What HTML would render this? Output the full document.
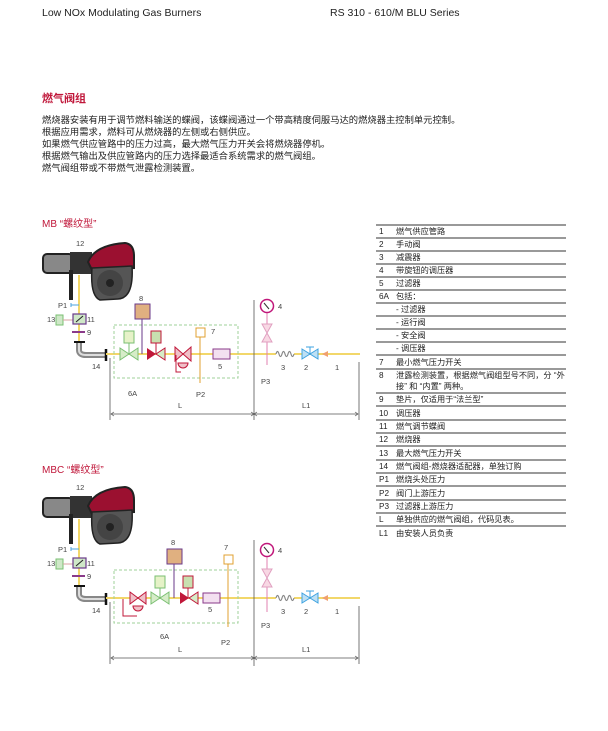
<!DOCTYPE html>
<html><head><meta charset="utf-8"><style>
body{margin:0;width:608px;height:731px;background:#fff;position:relative;overflow:hidden;font-family:"Liberation Sans","Noto Sans CJK SC",sans-serif;color:#222}
.a{position:absolute;white-space:nowrap}
</style></head><body>
<div class="a" style="left:42px;top:7px;font-size:10.5px">Low NOx Modulating Gas Burners</div>
<div class="a" style="left:330px;top:7px;font-size:10.5px">RS 310 - 610/M BLU Series</div>
<div class="a" style="left:42px;top:90px;font-size:11px;font-weight:bold;color:#c0173a">燃气阀组</div>
<div class="a" style="left:42px;top:114px;font-size:9.3px;line-height:12.1px">燃烧器安装有用于调节燃料输送的蝶阀，该蝶阀通过一个带高精度伺服马达的燃烧器主控制单元控制。<br>根据应用需求，燃料可从燃烧器的左侧或右侧供应。<br>如果燃气供应管路中的压力过高，最大燃气压力开关会将燃烧器停机。<br>根据燃气输出及供应管路内的压力选择最适合系统需求的燃气阀组。<br>燃气阀组带或不带燃气泄露检测装置。</div>
<div class="a" style="left:42px;top:215px;font-size:10px;color:#c0173a">MB “螺纹型”</div>
<div class="a" style="left:42px;top:461px;font-size:10px;color:#c0173a">MBC “螺纹型”</div>

<svg class="a" style="left:0;top:0" width="608" height="731" font-family="Liberation Sans, sans-serif" font-size="7.5" fill="#444">
<defs>
<g id="burner">
 <rect x="43" y="254" width="30" height="19" rx="4" fill="#888" stroke="#222" stroke-width="2"/>
 <rect x="70" y="252" width="22" height="22" fill="#333"/>
 <rect x="69" y="270" width="4" height="30" fill="#222"/>
 <path d="M88 262 Q95 245 125 243 Q134 244 134 256 L134 268 L92 270 Z" fill="#9b1030" stroke="#222" stroke-width="2"/>
 <path d="M92 268 L132 266 Q134 298 118 299 L100 300 Q90 296 92 268 Z" fill="#555" stroke="#222" stroke-width="1.5"/>
 <circle cx="110" cy="283" r="13" fill="#444"/>
 <circle cx="110" cy="283" r="4" fill="#222"/>
</g>
<g id="side">
 <line x1="79" y1="275" x2="79" y2="342" stroke="#f2d76a" stroke-width="2"/>
 <path d="M71 305 h8" stroke="#4aa3df" stroke-width="1"/>
 <path d="M71 303 v4" stroke="#4aa3df" stroke-width="1" fill="none"/>
 <rect x="56" y="315" width="7" height="10" fill="#cfe8c8" stroke="#7abf72"/>
 <line x1="63" y1="320" x2="73" y2="320" stroke="#d9a0a0"/>
 <rect x="73" y="314" width="13" height="10" fill="#cfe8c8" stroke="#6a3a8a" stroke-width="1.2"/>
 <line x1="76" y1="322" x2="83" y2="316" stroke="#222"/>
 <line x1="72" y1="332" x2="85" y2="332" stroke="#8a3a8a" stroke-width="2"/>
 <line x1="74" y1="342" x2="85" y2="342" stroke="#111" stroke-width="2"/>
 <path d="M79 343 V350 Q79 355 86 355 H105" stroke="#888" stroke-width="6" fill="none"/>
 <path d="M79 343 V350 Q79 355 86 355 H105" stroke="#ddd" stroke-width="2" fill="none"/>
 <line x1="106" y1="349" x2="106" y2="361" stroke="#111" stroke-width="2.5"/>
 <text x="76" y="246">12</text><text x="58" y="308">P1</text><text x="47" y="322">13</text><text x="87" y="322">11</text><text x="87" y="335">9</text><text x="92" y="369">14</text>
</g>
<g id="right">
 <line x1="106" y1="0" x2="276" y2="0" stroke="#f2d76a" stroke-width="2"/>
 <line x1="294" y1="0" x2="360" y2="0" stroke="#f2d76a" stroke-width="2"/>
 <path d="M276 0 q1.5 -5 3 0 q1.5 5 3 0 q1.5 -5 3 0 q1.5 5 3 0 q1.5 -5 3 0 q1.5 5 3 0" stroke="#888" fill="none" stroke-width="1.2"/>
 <polygon points="302,-5 310,0 302,5" fill="#bde0f5" stroke="#3fa3e0"/><polygon points="318,-5 310,0 318,5" fill="#bde0f5" stroke="#3fa3e0"/>
 <line x1="310" y1="0" x2="310" y2="-7" stroke="#3fa3e0"/><line x1="306" y1="-7" x2="314" y2="-7" stroke="#3fa3e0"/>
 <polygon points="322,0 328,-3 328,3" fill="#f0a070"/>
 <line x1="110" y1="4" x2="110" y2="66" stroke="#555" stroke-width="0.8"/>
 <line x1="359" y1="8" x2="359" y2="66" stroke="#555" stroke-width="0.8"/>
 <line x1="111" y1="60" x2="358" y2="60" stroke="#555" stroke-width="0.7"/>
 <path d="M114 58 l-3 2 l3 2 M251 58 l3 2 l-3 2 M257 58 l-3 2 l3 2 M355 58 l3 2 l-3 2" stroke="#555" fill="none" stroke-width="0.7"/>
 <text x="178" y="54">L</text><text x="302" y="54">L1</text>
 <text x="281" y="16">3</text><text x="304" y="16">2</text><text x="335" y="16">1</text>
</g>
</defs>

<use href="#burner"/><use href="#side"/>
<g transform="translate(0,354)"><use href="#right"/></g>
<line x1="254" y1="300" x2="254" y2="420" stroke="#555" stroke-width="0.8"/>
<rect x="114" y="325" width="124" height="53" fill="none" stroke="#9fd09a" stroke-dasharray="3,2"/>
<rect x="124" y="331" width="10" height="12" fill="#e6f2c8" stroke="#7abf72"/><line x1="129" y1="343" x2="129" y2="354" stroke="#7abf72"/>
<polygon points="120,348 129,354 120,360" fill="#d6ecc8" stroke="#7abf72"/><polygon points="138,348 129,354 138,360" fill="#d6ecc8" stroke="#7abf72"/>
<rect x="135" y="304" width="15" height="15" fill="#e0b080" stroke="#6a3a8a"/><line x1="142" y1="319" x2="142" y2="354" stroke="#6a3a8a"/>
<text x="139" y="301">8</text>
<rect x="151" y="331" width="10" height="12" fill="#c8e0b0" stroke="#c0173a"/><line x1="156" y1="343" x2="156" y2="354" stroke="#c0173a"/>
<polygon points="147,348 156,354 147,360" fill="#c0173a"/><polygon points="165,348 156,354 165,360" fill="#d6ecc8" stroke="#c0173a"/>
<polygon points="175,347 183,354 175,361" fill="#f0c0c8" stroke="#c0173a"/><polygon points="191,347 183,354 191,361" fill="#f0c0c8" stroke="#c0173a"/>
<path d="M178 363 h10 a5 5 0 0 1 -10 0 Z" fill="#f0c0c8" stroke="#c0173a"/><path d="M176 355 v17 h5" stroke="#c0173a" fill="none"/>
<rect x="196" y="328" width="9" height="9" fill="#fff" stroke="#e0a030"/><line x1="200" y1="337" x2="200" y2="383" stroke="#e0a030"/>
<text x="211" y="334">7</text><text x="196" y="397">P2</text>
<rect x="213" y="349" width="17" height="10" fill="#f3e0f0" stroke="#8a3a8a"/>
<text x="218" y="369">5</text><text x="128" y="396">6A</text>
<line x1="267" y1="313" x2="267" y2="365" stroke="#e080b0"/>
<circle cx="267" cy="306" r="6.5" fill="#fff" stroke="#c0177a" stroke-width="1.5"/><line x1="264" y1="303" x2="269" y2="309" stroke="#333"/>
<polygon points="262,324 272,324 267,333 262,342 272,342" fill="#f8d8e4" stroke="#e0a0c0"/>
<text x="278" y="309">4</text><text x="261" y="384">P3</text>

<g transform="translate(0,244)"><use href="#burner"/><use href="#side"/></g>
<g transform="translate(0,598)"><use href="#right"/></g>
<line x1="254" y1="540" x2="254" y2="666" stroke="#555" stroke-width="0.8"/>
<rect x="114" y="570" width="124" height="53" fill="none" stroke="#9fd09a" stroke-dasharray="3,2"/>
<polygon points="130,592 138,598 130,604" fill="#f0c0c8" stroke="#c0173a"/><polygon points="146,592 138,598 146,604" fill="#f0c0c8" stroke="#c0173a"/>
<path d="M133 606 h10 a5 5 0 0 1 -10 0 Z" fill="#f0c0c8" stroke="#c0173a"/><path d="M123 599 v17 h14" stroke="#c0173a" fill="none"/>
<rect x="155" y="576" width="10" height="12" fill="#e6f2c8" stroke="#7abf72"/><line x1="160" y1="588" x2="160" y2="598" stroke="#7abf72"/>
<polygon points="151,592 160,598 151,604" fill="#d6ecc8" stroke="#7abf72"/><polygon points="169,592 160,598 169,604" fill="#d6ecc8" stroke="#7abf72"/>
<rect x="167" y="549" width="15" height="15" fill="#e0b080" stroke="#6a3a8a"/><line x1="174" y1="564" x2="174" y2="598" stroke="#6a3a8a"/>
<text x="171" y="545">8</text>
<rect x="183" y="576" width="10" height="12" fill="#c8e0b0" stroke="#c0173a"/><line x1="188" y1="588" x2="188" y2="598" stroke="#c0173a"/>
<polygon points="180,592 189,598 180,604" fill="#c0173a"/><polygon points="198,592 189,598 198,604" fill="#d6ecc8" stroke="#c0173a"/>
<rect x="203" y="593" width="17" height="10" fill="#f3e0f0" stroke="#8a3a8a"/>
<rect x="224" y="555" width="9" height="9" fill="#fff" stroke="#e0a030"/><line x1="228" y1="564" x2="228" y2="627" stroke="#e0a030"/>
<text x="224" y="550">7</text><text x="221" y="645">P2</text>
<text x="208" y="612">5</text><text x="160" y="639">6A</text>
<line x1="267" y1="557" x2="267" y2="612" stroke="#e080b0"/>
<circle cx="267" cy="550" r="6.5" fill="#fff" stroke="#c0177a" stroke-width="1.5"/><line x1="264" y1="547" x2="269" y2="553" stroke="#333"/>
<polygon points="262,569 272,569 267,578 262,587 272,587" fill="#f8d8e4" stroke="#e0a0c0"/>
<text x="278" y="553">4</text><text x="261" y="628">P3</text>

<g font-family="Liberation Sans, Noto Sans CJK SC, sans-serif" font-size="8.2" fill="#222">
<g stroke="#333" stroke-width="0.9">
<line x1="376" y1="225" x2="566" y2="225"/><line x1="376" y1="238" x2="566" y2="238"/><line x1="376" y1="251" x2="566" y2="251"/><line x1="376" y1="264" x2="566" y2="264"/><line x1="376" y1="277" x2="566" y2="277"/><line x1="376" y1="290" x2="566" y2="290"/><line x1="376" y1="303" x2="566" y2="303"/>
<line x1="376" y1="316" x2="566" y2="316"/><line x1="376" y1="329" x2="566" y2="329"/><line x1="376" y1="342" x2="566" y2="342"/>
<line x1="376" y1="355" x2="566" y2="355"/><line x1="376" y1="369" x2="566" y2="369"/><line x1="376" y1="393" x2="566" y2="393"/><line x1="376" y1="406" x2="566" y2="406"/><line x1="376" y1="420" x2="566" y2="420"/><line x1="376" y1="433" x2="566" y2="433"/><line x1="376" y1="446" x2="566" y2="446"/><line x1="376" y1="460" x2="566" y2="460"/><line x1="376" y1="473" x2="566" y2="473"/><line x1="376" y1="486" x2="566" y2="486"/><line x1="376" y1="500" x2="566" y2="500"/><line x1="376" y1="513" x2="566" y2="513"/><line x1="376" y1="526" x2="566" y2="526"/>
</g>
<text x="379" y="234">1</text><text x="396" y="234">燃气供应管路</text>
<text x="379" y="247">2</text><text x="396" y="247">手动阀</text>
<text x="379" y="260">3</text><text x="396" y="260">减震器</text>
<text x="379" y="273">4</text><text x="396" y="273">带旋钮的调压器</text>
<text x="379" y="286">5</text><text x="396" y="286">过滤器</text>
<text x="379" y="299">6A</text><text x="396" y="299">包括：</text>
<text x="396" y="312">- 过滤器</text><text x="396" y="325">- 运行阀</text><text x="396" y="338">- 安全阀</text><text x="396" y="351">- 调压器</text>
<text x="379" y="365">7</text><text x="396" y="365">最小燃气压力开关</text>
<text x="379" y="378">8</text><text x="396" y="378">泄露检测装置，根据燃气阀组型号不同，分 “外</text><text x="396" y="389">接” 和 “内置” 两种。</text>
<text x="379" y="402">9</text><text x="396" y="402">垫片，仅适用于“法兰型”</text>
<text x="379" y="416">10</text><text x="396" y="416">调压器</text>
<text x="379" y="429">11</text><text x="396" y="429">燃气调节蝶阀</text>
<text x="379" y="442">12</text><text x="396" y="442">燃烧器</text>
<text x="379" y="456">13</text><text x="396" y="456">最大燃气压力开关</text>
<text x="379" y="469">14</text><text x="396" y="469">燃气阀组-燃烧器适配器，单独订购</text>
<text x="379" y="482">P1</text><text x="396" y="482">燃烧头处压力</text>
<text x="379" y="496">P2</text><text x="396" y="496">阀门上游压力</text>
<text x="379" y="509">P3</text><text x="396" y="509">过滤器上游压力</text>
<text x="379" y="522">L</text><text x="396" y="522">单独供应的燃气阀组，代码见表。</text>
<text x="379" y="536">L1</text><text x="396" y="536">由安装人员负责</text>
</g>
</svg>
</body></html>
